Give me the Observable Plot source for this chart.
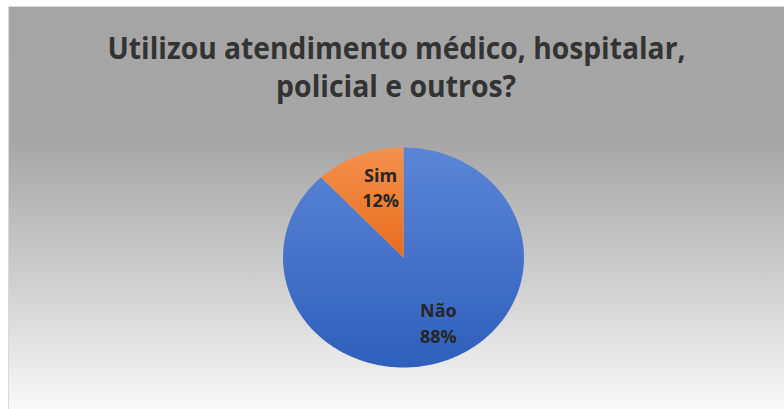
<!DOCTYPE html>
<html>
<head>
<meta charset="utf-8">
<script src="https://cdn.jsdelivr.net/npm/d3@7"></script>
<script src="https://cdn.jsdelivr.net/npm/@observablehq/plot@0.6"></script>
<style>
  html, body { margin: 0; padding: 0; background: #ffffff; }
  #frame {
    position: absolute; left: 8px; top: 6px; width: 776px; height: 403px;
    box-sizing: border-box; border-left: 1px solid #d9d9d9; border-top: 1px solid #d9d9d9;
    background: linear-gradient(to bottom, #a5a5a5 0px, #a6a6a6 134px, #d2d2d2 284px, #f9f9f9 403px);
    overflow: hidden;
  }
  .title {
    position: absolute; left: 0; width: 775px; text-align: center;
    font-family: "Open Sans", sans-serif; font-weight: 700; font-size: 31px;
    color: #333333; white-space: nowrap; line-height: 38px;
  }
  .title span { display: inline-block; transform-origin: center; }
  #chart { position: absolute; left: 0; top: 114px; }
</style>
</head>
<body>
<div id="frame">
  <div class="title" style="top:21px"><span id="t1">Utilizou atendimento médico, hospitalar,</span></div>
  <div class="title" style="top:59px"><span id="t2">policial e outros?</span></div>
  <div id="chart"></div>
</div>
<script>
const categories = ["Não", "Sim"];
const values = [88, 12];
const labels = ["Não\n88%", "Sim\n12%"];
const gradientIds = ["gradNao", "gradSim"];

// squeeze title to the reference's narrow bold face width
const targetW = {t1: 578, t2: 240};
for (const id of ["t1", "t2"]) {
  const el = document.getElementById(id);
  const w = el.getBoundingClientRect().width;
  el.style.transform = `scaleX(${targetW[id] / w})`;
}

// build slices from values: start at 12 o'clock, go clockwise
const total = d3.sum(values);
let acc = 0;
const slices = categories.map((c, i) => {
  const a0 = acc / total * 2 * Math.PI;
  acc += values[i];
  const a1 = acc / total * 2 * Math.PI;
  const pts = [{x: 0, y: 0}];
  const n = Math.max(4, Math.ceil((a1 - a0) / (Math.PI / 180)));
  for (let k = 0; k <= n; k++) {
    const a = a0 + (a1 - a0) * k / n;
    pts.push({x: Math.sin(a), y: Math.cos(a)});
  }
  pts.push({x: 0, y: 0});
  return {name: c, pts, id: gradientIds[i]};
});

const labelPos = [
  {x: 0.29, y: -0.585, text: labels[0]},
  {x: -0.19, y: 0.645, text: labels[1]}
];

const W = 775, H = 295;
const cx = 394, cy = 136, rx = 120.5, ry = 110;

const marks = slices.map(s =>
  Plot.line(s.pts, {x: "x", y: "y", fill: `url(#${s.id})`, stroke: "none", curve: "linear"})
);
marks.push(Plot.text(labelPos, {
  x: "x", y: "y", text: "text", fill: "#262626",
  fontSize: 18, fontWeight: 700, lineHeight: 1.4,
  fontFamily: "Open Sans, sans-serif"
}));

const plot = Plot.plot({
  width: W, height: H,
  margin: 0,
  style: {background: "transparent", overflow: "visible"},
  x: {domain: [-1, 1], range: [cx - rx, cx + rx], axis: null},
  y: {domain: [-1, 1], range: [cy + ry, cy - ry], axis: null},
  marks
});

const svg = d3.select(plot);
const defs = svg.insert("defs", ":first-child");
const gNao = defs.append("linearGradient").attr("id", "gradNao").attr("x1", 0).attr("y1", 0).attr("x2", 0).attr("y2", 1);
gNao.append("stop").attr("offset", "0%").attr("stop-color", "#5b86d6");
gNao.append("stop").attr("offset", "100%").attr("stop-color", "#2f5fbc");
const gSim = defs.append("linearGradient").attr("id", "gradSim").attr("x1", 0).attr("y1", 0).attr("x2", 0).attr("y2", 1);
gSim.append("stop").attr("offset", "0%").attr("stop-color", "#f3914f");
gSim.append("stop").attr("offset", "100%").attr("stop-color", "#e86d1b");

document.getElementById("chart").appendChild(plot);
</script>
</body>
</html>
